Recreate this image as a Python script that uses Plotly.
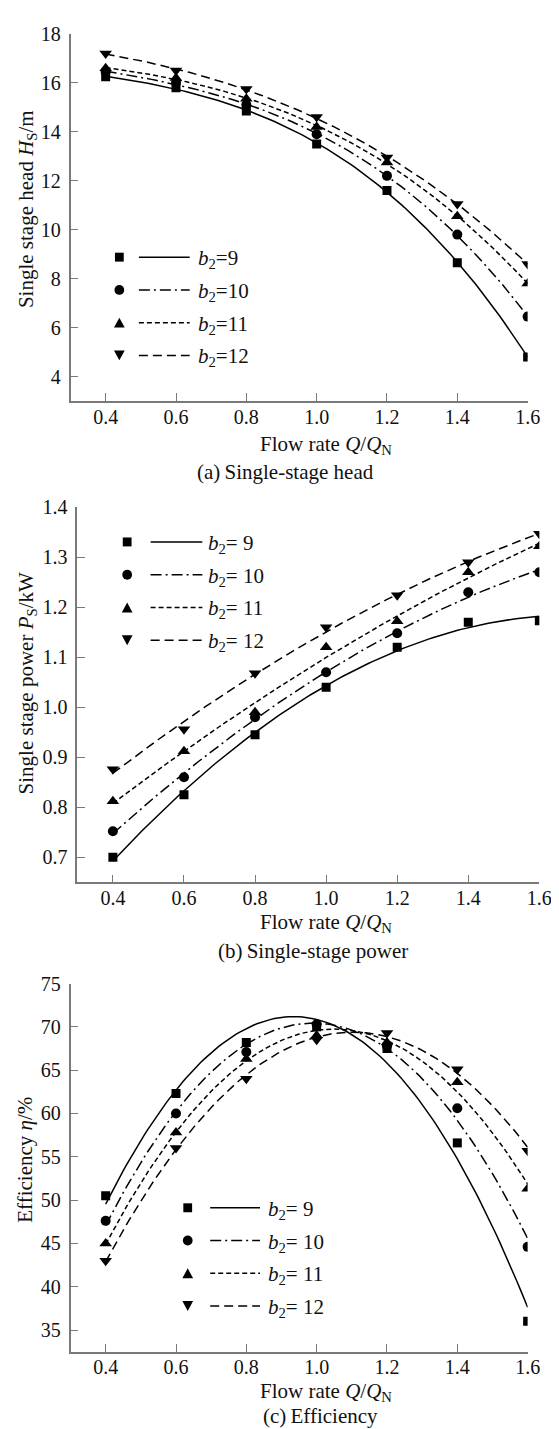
import numpy as np
import plotly.graph_objects as go

W, H = 559, 1429

# ---------------- data ----------------
flow = [0.4, 0.6, 0.8, 1.0, 1.2, 1.4, 1.6]
b2_labels = ["9", "10", "11", "12"]

head_b9 = [16.25, 15.8, 14.85, 13.5, 11.6, 8.65, 4.8]
head_b10 = [16.45, 16.0, 15.1, 13.9, 12.2, 9.8, 6.45]
head_b11 = [16.6, 16.2, 15.35, 14.2, 12.75, 10.55, 7.8]
head_b12 = [17.2, 16.5, 15.75, 14.6, 12.95, 11.05, 8.6]

power_b9 = [0.70, 0.825, 0.945, 1.04, 1.12, 1.17, 1.173]
power_b10 = [0.752, 0.86, 0.98, 1.07, 1.148, 1.23, 1.27]
power_b11 = [0.812, 0.912, 0.99, 1.12, 1.172, 1.27, 1.322]
power_b12 = [0.876, 0.956, 1.068, 1.16, 1.224, 1.29, 1.347]

eff_b9 = [50.5, 62.3, 68.2, 70.0, 67.5, 56.6, 36.0]
eff_b10 = [47.6, 60.0, 67.1, 70.3, 67.8, 60.6, 44.6]
eff_b11 = [45.0, 57.8, 66.3, 69.0, 68.2, 63.6, 51.3]
eff_b12 = [43.0, 56.0, 64.0, 68.5, 69.3, 65.1, 55.7]

head_ticks = [4, 6, 8, 10, 12, 14, 16, 18]
power_ticks = [0.7, 0.8, 0.9, 1.0, 1.1, 1.2, 1.3, 1.4]
eff_ticks = [35, 40, 45, 50, 55, 60, 65, 70, 75]

# ---------------- styles ----------------
FONT = "Liberation Serif"
TXT = "#111111"
AX = "#7a7a7a"
symbols = ["square", "circle", "triangle-up", "triangle-down"]
msizes = [9, 10, 11, 11]
dashes = ["solid", "11px,4px,2px,4px", "5px,3px", "9px,5px"]
LW = 1.5
FS = 21


def fx(px):
    return px / W


def fy(py):
    return 1 - py / H


panels = [
    dict(vals=[head_b9, head_b10, head_b11, head_b12], deg=3,
         xpx=(64, 532), ypx=(15, 385), yrange=[3, 18], ticks=head_ticks, fmt="d",
         ytitle="Single stage head <i>H</i><sub>S</sub>/m", ytit_pos=(19, 192),
         xtit_pos=(326, 429), cap="(a)\u2009Single-stage head", cap_pos=(284, 457),
         leg=dict(mx=114, l0=134, l1=186, tx=192, rows=[240, 273, 306, 339], sep="=")),
    dict(vals=[power_b9, power_b10, power_b11, power_b12], deg=2,
         xpx=(71, 544), ypx=(492, 870), yrange=[0.65, 1.4], ticks=power_ticks, fmt=".1f",
         ytitle="Single stage power <i>P</i><sub>S</sub>/kW", ytit_pos=(19, 670),
         xtit_pos=(326, 911), cap="(b)\u2009Single-stage power", cap_pos=(312, 939),
         leg=dict(mx=122, l0=146, l1=199, tx=203, rows=[527, 560, 593, 626], sep="= ")),
    dict(vals=[eff_b9, eff_b10, eff_b11, eff_b12], deg=2,
         xpx=(64, 532), ypx=(972, 1343), yrange=[32.5, 75], ticks=eff_ticks, fmt="d",
         ytitle="Efficiency <i>\u03b7</i>/%", ytit_pos=(18, 1150),
         xtit_pos=(326, 1384), cap="(c)\u2009Efficiency", cap_pos=(320, 1408),
         leg=dict(mx=184, l0=207, l1=258, tx=264, rows=[1198, 1231, 1264, 1297], sep="= ")),
]

fig = go.Figure()
layout = dict(
    width=W, height=H, margin=dict(l=0, r=0, t=0, b=0),
    paper_bgcolor="white", plot_bgcolor="white", showlegend=False,
    font=dict(family=FONT, size=FS, color=TXT),
)
annotations = []
shapes = []

xs = np.linspace(0.4, 1.6, 121)
tickfont = dict(family=FONT, size=FS - 1, color=TXT)

for i, p in enumerate(panels):
    n = "" if i == 0 else str(i + 1)
    xa, ya = "x" + n, "y" + n
    layout["xaxis" + n] = dict(
        domain=[fx(p["xpx"][0]), fx(p["xpx"][1])], range=[0.3, 1.6], anchor=ya,
        showline=True, linecolor=AX, linewidth=1.5, ticks="inside", ticklen=8,
        tickwidth=1.3, tickcolor=AX, tickvals=flow, ticktext=[f"{v:.1f}" for v in flow],
        showgrid=False, zeroline=False, tickfont=tickfont, ticklabelstandoff=-3,
    )
    layout["yaxis" + n] = dict(
        domain=[fy(p["ypx"][1]), fy(p["ypx"][0])], range=p["yrange"], anchor=xa,
        showline=True, linecolor=AX, linewidth=1.5, ticks="inside", ticklen=8,
        tickwidth=1.3, tickcolor=AX, tickvals=p["ticks"],
        ticktext=[(f"{v:.1f}" if p["fmt"] == ".1f" else f"{v:d}") for v in p["ticks"]],
        showgrid=False, zeroline=False, tickfont=tickfont, ticklabelstandoff=4,
    )
    for j, vals in enumerate(p["vals"]):
        coef = np.polyfit(flow, vals, p["deg"])
        fig.add_trace(go.Scatter(
            x=xs, y=np.polyval(coef, xs), mode="lines", xaxis=xa, yaxis=ya,
            line=dict(color="black", width=LW, dash=dashes[j]), hoverinfo="skip"))
        fig.add_trace(go.Scatter(
            x=flow, y=vals, mode="markers", xaxis=xa, yaxis=ya,
            marker=dict(symbol=symbols[j], size=msizes[j], color="black", line=dict(width=0))))

    # axis titles and caption
    annotations.append(dict(text=p["ytitle"], x=fx(p["ytit_pos"][0]), y=fy(p["ytit_pos"][1]),
                            xref="paper", yref="paper", textangle=-90, showarrow=False,
                            xanchor="center", yanchor="middle", font=dict(family=FONT, size=FS)))
    annotations.append(dict(text="Flow rate <i>Q</i>/<i>Q</i><sub>N</sub>",
                            x=fx(p["xtit_pos"][0]), y=fy(p["xtit_pos"][1]),
                            xref="paper", yref="paper", showarrow=False,
                            xanchor="center", yanchor="middle", font=dict(family=FONT, size=FS)))
    annotations.append(dict(text=p["cap"], x=fx(p["cap_pos"][0]), y=fy(p["cap_pos"][1]),
                            xref="paper", yref="paper", showarrow=False,
                            xanchor="center", yanchor="middle", font=dict(family=FONT, size=FS)))

    # legend
    lg = p["leg"]
    for j, ry in enumerate(lg["rows"]):
        mx = lg["mx"]
        if symbols[j] == "square":
            s = 4.5
            shapes.append(dict(type="rect", xref="paper", yref="paper",
                               x0=fx(mx - s), x1=fx(mx + s), y0=fy(ry + s), y1=fy(ry - s),
                               fillcolor="black", line=dict(width=0)))
        elif symbols[j] == "circle":
            r = 5
            shapes.append(dict(type="circle", xref="paper", yref="paper",
                               x0=fx(mx - r), x1=fx(mx + r), y0=fy(ry + r), y1=fy(ry - r),
                               fillcolor="black", line=dict(width=0)))
        else:
            w, h = 5.5, 5
            if symbols[j] == "triangle-up":
                pts = [(mx, ry - h), (mx + w, ry + h), (mx - w, ry + h)]
            else:
                pts = [(mx, ry + h), (mx + w, ry - h), (mx - w, ry - h)]
            path = "M " + " L ".join(f"{fx(a):.5f},{fy(b):.5f}" for a, b in pts) + " Z"
            shapes.append(dict(type="path", xref="paper", yref="paper", path=path,
                               fillcolor="black", line=dict(width=0)))
        shapes.append(dict(type="line", xref="paper", yref="paper",
                           x0=fx(lg["l0"]), x1=fx(lg["l1"]), y0=fy(ry), y1=fy(ry),
                           line=dict(color="black", width=LW, dash=dashes[j])))
        annotations.append(dict(text=f"<i>b</i><sub>2</sub>{lg['sep']}{b2_labels[j]}",
                                x=fx(lg["tx"]), y=fy(ry + 2), xref="paper", yref="paper",
                                showarrow=False, xanchor="left", yanchor="middle",
                                font=dict(family=FONT, size=FS)))

layout["annotations"] = annotations
layout["shapes"] = shapes
fig.update_layout(**layout)
fig.write_html("out.html")
